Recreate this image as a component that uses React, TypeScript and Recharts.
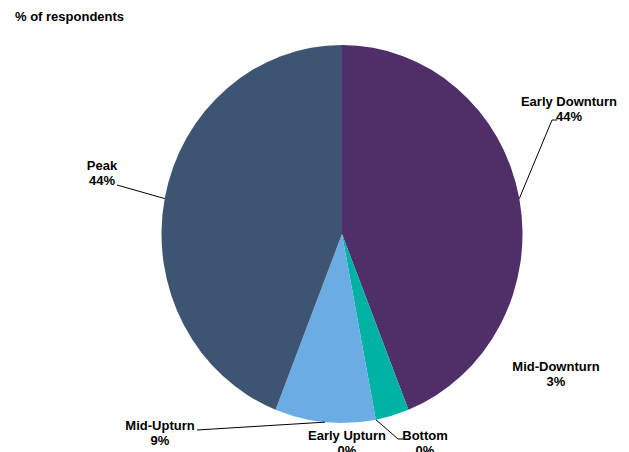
import { PieChart, Pie, Cell } from "recharts";

const phases = ["Early Downturn", "Mid-Downturn", "Bottom", "Early Upturn", "Mid-Upturn", "Peak"];
const shares = [44, 3, 0, 0, 9, 44];
const colors = ["#4F2E6A", "#00B2A4", "#00B2A4", "#6AACE3", "#6AACE3", "#3E5473"];

const data = phases.map((name, i) => ({ name, value: shares[i] }));

// label text centre (relative to pie centre), optional leader line elbow + end
const labelPlace: Record<string, { tx: number; ty: number; line?: number[] }> = {
  "Early Downturn": { tx: 227, ty: -133, line: [210, -114, 215, -114] },
  "Mid-Downturn": { tx: 214, ty: 132 },
  Bottom: { tx: 83, ty: 201, line: [56, 205, 61, 205] },
  "Early Upturn": { tx: 5, ty: 201 },
  "Mid-Upturn": { tx: -182, ty: 191, line: [-145, 196, -145, 196] },
  Peak: { tx: -240, ty: -69, line: [-225, -49, -225, -49] },
};

const STRETCH = 1.047; // the reference pie is a little taller than wide
const RAD = Math.PI / 180;

function EllipseSector(props: any) {
  const { cx, cy, outerRadius, startAngle, endAngle, fill } = props;
  if (Math.abs(endAngle - startAngle) < 0.01) return null;
  const rx = outerRadius;
  const ry = outerRadius * STRETCH;
  const x1 = cx + rx * Math.cos(startAngle * RAD);
  const y1 = cy - ry * Math.sin(startAngle * RAD);
  const x2 = cx + rx * Math.cos(endAngle * RAD);
  const y2 = cy - ry * Math.sin(endAngle * RAD);
  const large = Math.abs(endAngle - startAngle) > 180 ? 1 : 0;
  const sweep = endAngle < startAngle ? 1 : 0;
  return (
    <path
      d={`M${cx},${cy} L${x1},${y1} A${rx},${ry} 0 ${large} ${sweep} ${x2},${y2} Z`}
      fill={fill}
      stroke="none"
    />
  );
}

function renderLabel(props: any) {
  const { cx, cy, midAngle, outerRadius, index } = props;
  const name = phases[index];
  const p = labelPlace[name];
  if (!p) return null;
  const ex = cx + outerRadius * Math.cos(midAngle * RAD);
  const ey = cy - outerRadius * STRETCH * Math.sin(midAngle * RAD);
  return (
    <g key={name}>
      {p.line && (
        <polyline
          points={`${ex},${ey} ${cx + p.line[0]},${cy + p.line[1]} ${cx + p.line[2]},${cy + p.line[3]}`}
          fill="none"
          stroke="#000"
          strokeWidth={1}
        />
      )}
      <text
        x={cx + p.tx}
        y={cy + p.ty}
        textAnchor="middle"
        dominantBaseline="central"
        fontSize={13}
        fontWeight="bold"
        fill="#000"
      >
        {name}
      </text>
      <text
        x={cx + p.tx}
        y={cy + p.ty + 15}
        textAnchor="middle"
        dominantBaseline="central"
        fontSize={13}
        fontWeight="bold"
        fill="#000"
      >
        {shares[index]}%
      </text>
    </g>
  );
}

export default function App() {
  return (
    <div
      style={{
        position: "absolute",
        left: 0,
        top: 0,
        width: 629,
        height: 452,
        background: "#fff",
        fontFamily: "'Liberation Sans', Arial, sans-serif",
      }}
    >
      <div
        style={{
          position: "absolute",
          left: 15,
          top: 9,
          fontSize: 13,
          fontWeight: "bold",
          color: "#000",
        }}
      >
        % of respondents
      </div>
      <PieChart
        width={629}
        height={452}
        margin={{ top: 0, right: 0, bottom: 0, left: 0 }}
        style={{ position: "absolute", left: 0, top: 0 }}
      >
        <Pie
          data={data}
          dataKey="value"
          nameKey="name"
          cx={342}
          cy={234}
          outerRadius={180.5}
          startAngle={90}
          endAngle={-270}
          stroke="none"
          shape={EllipseSector}
          label={renderLabel}
          labelLine={false}
          isAnimationActive={false}
        >
          {data.map((d, i) => (
            <Cell key={d.name} fill={colors[i]} />
          ))}
        </Pie>
      </PieChart>
    </div>
  );
}
